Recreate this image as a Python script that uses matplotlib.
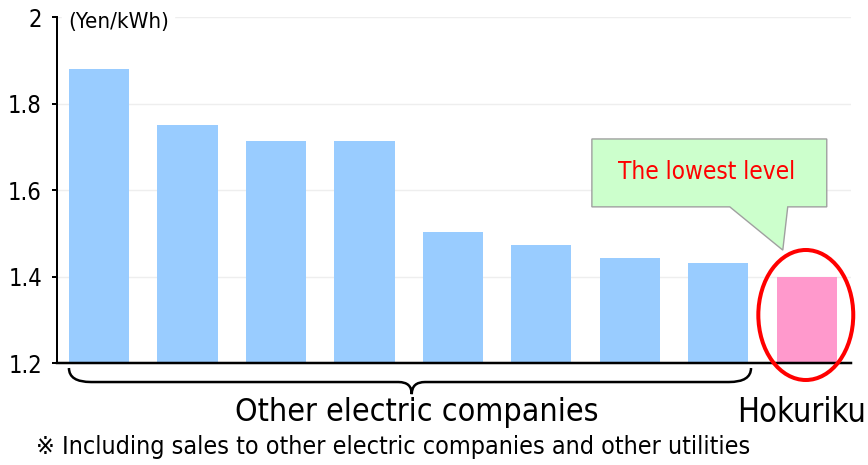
import matplotlib
matplotlib.use("Agg")
import matplotlib.pyplot as plt
from matplotlib.patches import Ellipse, Polygon
from matplotlib.path import Path
from matplotlib.patches import PathPatch

plt.rcParams['font.family'] = ['DejaVu Sans', 'Noto Sans CJK JP']
plt.rcParams['font.stretch'] = 'condensed'

# Data
companies = ["Co1", "Co2", "Co3", "Co4", "Co5", "Co6", "Co7", "Co8", "Hokuriku"]
values = [1.88, 1.75, 1.713, 1.713, 1.503, 1.473, 1.443, 1.431, 1.40]
colors = ["#99CCFF"] * 8 + ["#FF99CC"]
yticks = [1.2, 1.4, 1.6, 1.8, 2.0]
ytick_labels = ["1.2", "1.4", "1.6", "1.8", "2"]

W, H = 868, 465
PX = 72 / 100  # points per pixel
fig = plt.figure(figsize=(W / 100, H / 100), dpi=100)
ax = fig.add_axes([57 / W, 1 - 363 / H, (851 - 57) / W, (363 - 17) / H])

x = list(range(len(values)))
ax.bar(x, [v - 1.2 for v in values], bottom=1.2, width=0.68, color=colors, zorder=2)
ax.set_xlim(-0.475, 8.5)
ax.set_ylim(1.2, 2.0)
ax.set_yticks(yticks)
ax.set_yticklabels(ytick_labels, fontsize=17)
ax.set_xticks([])
for y in yticks[1:]:
    ax.axhline(y, color="#EEEEEE", lw=1, zorder=1)
for s in ["top", "right"]:
    ax.spines[s].set_visible(False)
ax.spines["left"].set_linewidth(2 * PX)
ax.spines["bottom"].set_linewidth(2.5 * PX)
ax.spines["left"].set_zorder(3)
ax.spines["bottom"].set_zorder(3)
ax.tick_params(axis="y", length=5 * PX, width=2 * PX, pad=10 * PX, direction="out")

# unit label
fig.text(68 / W, 1 - 22 / H, "(Yen/kWh)", fontsize=16, ha="left", va="center",
         backgroundcolor="white", zorder=5)

# brace under the other companies
x0 = x[0] - 0.34
x1 = x[7] + 0.37
xm = (x0 + x1) / 2 + 0.02
ya, yb, yc = 1.1884, 1.156, 1.128
d = 0.25
verts = [(x0, ya), (x0, yb), (x0 + d, yb),
         (xm - d * 0.6, yb),
         (xm, yb), (xm, yc),
         (xm, yb), (xm + d * 0.6, yb),
         (x1 - d, yb),
         (x1, yb), (x1, ya)]
codes = [Path.MOVETO, Path.CURVE3, Path.CURVE3,
         Path.LINETO,
         Path.CURVE3, Path.CURVE3,
         Path.CURVE3, Path.CURVE3,
         Path.LINETO,
         Path.CURVE3, Path.CURVE3]
ax.add_patch(PathPatch(Path(verts, codes), fill=False, lw=2.5 * PX, color="black", clip_on=False))

# callout
bx0, bx1, by0, by1 = 5.571, 8.226, 1.561, 1.718
callout = Polygon([(bx0, by0), (bx0, by1), (bx1, by1), (bx1, by0),
                   (7.785, by0), (7.729, 1.461), (7.13, by0)],
                  closed=True, facecolor="#CCFFCC", edgecolor="#A0A0A0", lw=1,
                  zorder=4, clip_on=False)
ax.add_patch(callout)
ax.text((bx0 + bx1) / 2 - 0.03, (by0 + by1) / 2 + 0.003, "The lowest level", color="#FF0000",
        fontsize=17.5, ha="center", va="center", zorder=5)

# red ellipse
ax.add_patch(Ellipse((7.989, 1.311), 1.073, 0.3006, fill=False, edgecolor="#FF0000",
                     lw=4 * PX, zorder=5, clip_on=False))

# group labels
fig.text(417 / W, 1 - 412 / H, "Other electric companies", fontsize=23, ha="center", va="center")
fig.text(866 / W, 1 - 412 / H, "Hokuriku", fontsize=23.5, ha="right", va="center")
fig.text(36 / W, 1 - 447 / H, "※ Including sales to other electric companies and other utilities",
         fontsize=18, ha="left", va="center")

fig.savefig("out.png", dpi=100)
